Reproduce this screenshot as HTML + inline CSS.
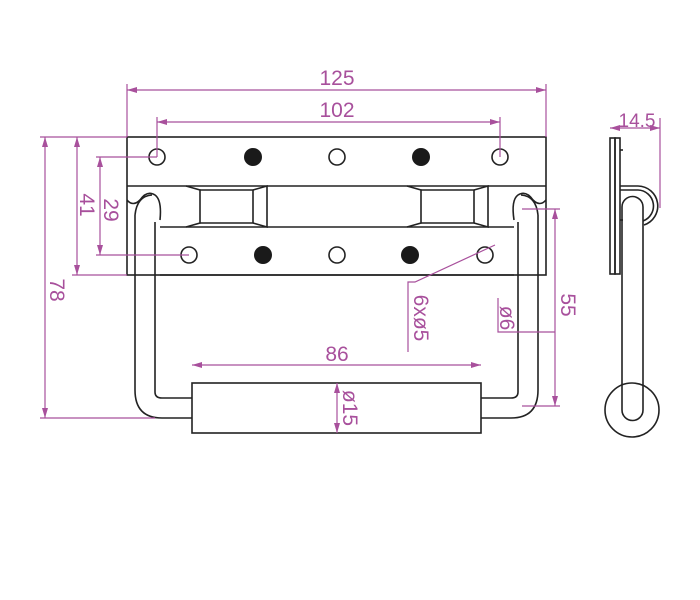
<!DOCTYPE html>
<html><head><style>body{margin:0;background:#fff}svg{display:block}</style></head><body>
<svg width="700" height="600" viewBox="0 0 700 600" xmlns="http://www.w3.org/2000/svg">
<defs>
<marker id="a" viewBox="0 0 10 6" refX="10" refY="3" markerWidth="10" markerHeight="6" orient="auto-start-reverse" markerUnits="userSpaceOnUse"><path d="M0,0L10,3L0,6z" fill="#a8509c"/></marker>
</defs>
<g fill="none" stroke="#222" stroke-width="1.6">
<rect x="127" y="137" width="419" height="138"/>
<line x1="127" y1="186" x2="546" y2="186"/>
<line x1="160" y1="227" x2="514" y2="227"/>
<line x1="160" y1="275" x2="514" y2="275"/>
<path d="M186,186 L200,190 L200,223 L186,227"/>
<path d="M200,190 L253,190 L253,223 L200,223"/>
<path d="M253,190 L267,186 L267,227 L253,223"/>
<path d="M407,186 L421,190 L421,223 L407,227"/>
<path d="M421,190 L474,190 L474,223 L421,223"/>
<path d="M474,190 L488,186 L488,227 L474,223"/>
<circle cx="157" cy="157" r="8"/><circle cx="337" cy="157" r="8"/><circle cx="500" cy="157" r="8"/>
<circle cx="189" cy="255" r="8"/><circle cx="337" cy="255" r="8"/><circle cx="485" cy="255" r="8"/>
<path d="M127,200 Q133,207 140,200 Q147,190 155,195 Q162,200 160,220"/>
<path d="M546,200 Q540,207 533,200 Q526,190 518,195 Q511,200 514,220"/>
<path d="M135,215 Q137,196 152,195 M135,215 L135,390 Q135,418 162,418 L192,418"/>
<path d="M155,222 L155,392 Q155,398 162,398 L192,398"/>
<path d="M538,215 Q536,196 521,195 M538,215 L538,390 Q538,418 511,418 L481,418"/>
<path d="M518,222 L518,392 Q518,398 511,398 L481,398"/>
<rect x="192" y="383" width="289" height="50"/>
<!-- side view -->
<rect x="610" y="138" width="5" height="136"/>
<rect x="615" y="138" width="5" height="136"/>
<line x1="620" y1="150" x2="623" y2="150"/><line x1="620" y1="220" x2="623" y2="220"/>
<path d="M620,186 L638,186 A20,20 0 0 1 644,225"/>
<path d="M620,190 L638,190 A16,16 0 0 1 643,221"/>
<path d="M622,410 L622,207 A10.5,10.5 0 0 1 643,207 L643,410"/>
<circle cx="632" cy="410" r="27"/>
<path d="M622,410 A10.5,10.5 0 0 0 643,410"/>
</g>
<g fill="#1a1a1a">
<circle cx="253" cy="157" r="9"/><circle cx="421" cy="157" r="9"/>
<circle cx="263" cy="255" r="9"/><circle cx="410" cy="255" r="9"/>
</g>
<g stroke="#a8509c" stroke-width="1.2" fill="none">
<line x1="127" y1="84" x2="127" y2="137"/><line x1="546" y1="84" x2="546" y2="137"/>
<line x1="127" y1="90" x2="546" y2="90" marker-start="url(#a)" marker-end="url(#a)"/>
<line x1="157" y1="117" x2="157" y2="157"/><line x1="500" y1="117" x2="500" y2="157"/>
<line x1="157" y1="122" x2="500" y2="122" marker-start="url(#a)" marker-end="url(#a)"/>
<line x1="40" y1="137" x2="127" y2="137"/><line x1="40" y1="418" x2="155" y2="418"/>
<line x1="45" y1="137" x2="45" y2="418" marker-start="url(#a)" marker-end="url(#a)"/>
<line x1="72" y1="275" x2="127" y2="275"/>
<line x1="77" y1="137" x2="77" y2="275" marker-start="url(#a)" marker-end="url(#a)"/>
<line x1="96" y1="157" x2="157" y2="157"/><line x1="96" y1="255" x2="189" y2="255"/>
<line x1="100" y1="157" x2="100" y2="255" marker-start="url(#a)" marker-end="url(#a)"/>
<line x1="522" y1="209" x2="560" y2="209"/><line x1="522" y1="406" x2="560" y2="406"/>
<line x1="555" y1="209" x2="555" y2="406" marker-start="url(#a)" marker-end="url(#a)"/>
<polyline points="495,245 415,282 408,282 408,352"/>
<polyline points="498,298 498,332 555,332"/>
<line x1="192" y1="365" x2="481" y2="365" marker-start="url(#a)" marker-end="url(#a)"/>
<line x1="337" y1="383" x2="337" y2="433" marker-start="url(#a)" marker-end="url(#a)"/>
<line x1="660" y1="118" x2="660" y2="208"/>
<line x1="610" y1="128" x2="660" y2="128" marker-start="url(#a)" marker-end="url(#a)"/>
</g>
<g fill="#a8509c" font-family="Liberation Sans, sans-serif" font-size="21" text-anchor="middle">
<text x="337" y="85">125</text>
<text x="337" y="117">102</text>
<text x="337" y="361">86</text>
<text x="637" y="127" font-size="19">14.5</text>
<text transform="translate(50,290) rotate(90)">78</text>
<text transform="translate(80,205) rotate(90)">41</text>
<text transform="translate(104,210) rotate(90)">29</text>
<text transform="translate(561,305) rotate(90)">55</text>
<text transform="translate(414,318) rotate(90)">6xø5</text>
<text transform="translate(500,318) rotate(90)">ø6</text>
<text transform="translate(343,408) rotate(90)">ø15</text>
</g>
</svg>
</body></html>
